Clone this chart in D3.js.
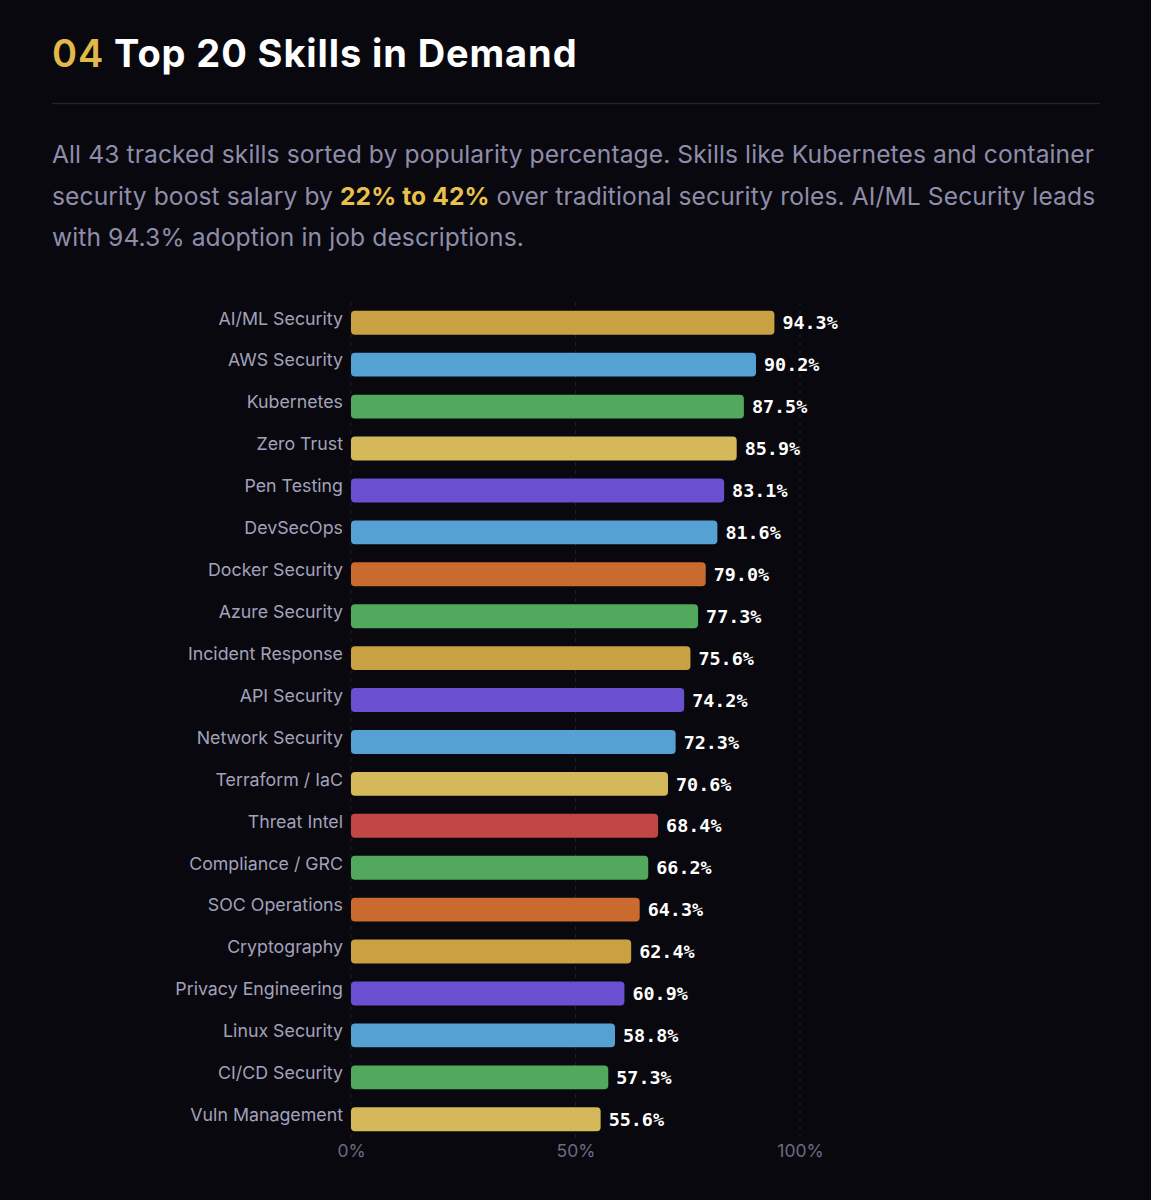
<!DOCTYPE html>
<html>
<head>
<meta charset="utf-8">
<script src="https://cdn.jsdelivr.net/npm/d3@7"></script>
<style>
  html, body { margin: 0; padding: 0; background: #08080e; }
  svg { display: block; }
</style>
</head>
<body>
<svg id="chart" width="1151" height="1200"></svg>
<script>
// Top 20 skills -- horizontal bar chart

var skills = ["AI/ML Security", "AWS Security", "Kubernetes", "Zero Trust", "Pen Testing",
  "DevSecOps", "Docker Security", "Azure Security", "Incident Response", "API Security",
  "Network Security", "Terraform / IaC", "Threat Intel", "Compliance / GRC", "SOC Operations",
  "Cryptography", "Privacy Engineering", "Linux Security", "CI/CD Security", "Vuln Management"];

var popularity = [94.3, 90.2, 87.5, 85.9, 83.1, 81.6, 79.0, 77.3, 75.6, 74.2,
  72.3, 70.6, 68.4, 66.2, 64.3, 62.4, 60.9, 58.8, 57.3, 55.6];

var groups = ["gold", "blue", "green", "yellow", "purple", "blue", "orange", "green", "gold", "purple",
  "blue", "yellow", "red", "green", "orange", "gold", "purple", "blue", "green", "yellow"];

var ticks = [0, 50, 100];

var palette = {
  gold: "#c9a042",
  yellow: "#d5b85a",
  blue: "#56a1d4",
  green: "#52a85d",
  purple: "#6a4fd1",
  orange: "#c96a2f",
  red: "#c04745"
};

var svg = d3.select("#chart");

///////////////////////////////////////////////////////////////////////////////
// Header

var title = svg.append("text")
  .attr("x", 52).attr("y", 67)
  .attr("font-family", "Inter, 'Noto Sans', sans-serif")
  .attr("font-size", 38).attr("font-weight", 700)
  .attr("letter-spacing", 0.9);
title.append("tspan").attr("fill", "#e2b84a").attr("font-weight", 600).text("04");
title.append("tspan").attr("fill", "#ffffff").text(" Top 20 Skills in Demand");

svg.append("line")
  .attr("x1", 52).attr("x2", 1100)
  .attr("y1", 103.5).attr("y2", 103.5)
  .attr("stroke", "#23222f").attr("stroke-width", 1.5);

var intro = [
  [["All 43 tracked skills sorted by popularity percentage. Skills like Kubernetes and container", false]],
  [["security boost salary by ", false], ["22% to 42%", true], [" over traditional security roles. AI/ML Security leads", false]],
  [["with 94.3% adoption in job descriptions.", false]]
];

intro.forEach(function (line, i) {
  var t = svg.append("text")
    .attr("x", 52).attr("y", 163 + i * 41.5)
    .attr("font-family", "Inter, 'Noto Sans', sans-serif")
    .attr("font-size", 24.6)
    .attr("letter-spacing", 0.1)
    .attr("fill", "#8f8da9");
  line.forEach(function (part) {
    var s = t.append("tspan").text(part[0]);
    if (part[1])
      s.attr("fill", "#e8c04b").attr("font-weight", 700);
  });
});

///////////////////////////////////////////////////////////////////////////////
// Chart

var x = d3.scaleLinear().domain([0, 100]).range([351, 800]);
var y = d3.scaleBand().domain(skills).range([302, 1140]).paddingInner(0.43).paddingOuter(0.21);

// faint dashed gridlines
svg.append("g").selectAll("line")
  .data(ticks)
  .enter().append("line")
  .attr("x1", function (d) { return x(d); })
  .attr("x2", function (d) { return x(d); })
  .attr("y1", 302).attr("y2", 1138)
  .attr("stroke", "#1c1c26").attr("stroke-dasharray", "4,4");

var rows = skills.map(function (s, i) {
  return { skill: s, value: popularity[i], color: palette[groups[i]] };
});

svg.append("g").selectAll("rect")
  .data(rows)
  .enter().append("rect")
  .attr("x", x(0))
  .attr("y", function (d) { return y(d.skill); })
  .attr("width", function (d) { return x(d.value) - x(0); })
  .attr("height", y.bandwidth())
  .attr("rx", 4).attr("ry", 4)
  .attr("fill", function (d) { return d.color; });

svg.append("g").selectAll("text")
  .data(rows)
  .enter().append("text")
  .attr("x", 343)
  .attr("y", function (d) { return y(d.skill) + y.bandwidth() / 2; })
  .attr("dy", "0.1em")
  .attr("text-anchor", "end")
  .attr("font-family", "Inter, 'Noto Sans', sans-serif")
  .attr("font-size", 17.8)
  .attr("fill", "#a3a2ba")
  .text(function (d) { return d.skill; });

svg.append("g").selectAll("text")
  .data(rows)
  .enter().append("text")
  .attr("x", function (d) { return x(d.value) + 8; })
  .attr("y", function (d) { return y(d.skill) + y.bandwidth() / 2; })
  .attr("dy", "0.36em")
  .attr("font-family", "'DejaVu Sans Mono', 'Liberation Mono', monospace")
  .attr("font-size", 18.4)
  .attr("font-weight", 700)
  .attr("fill", "#ffffff")
  .text(function (d) { return d.value.toFixed(1) + "%"; });

// x axis, labels only
var axis = svg.append("g")
  .attr("transform", "translate(0,1140)")
  .call(d3.axisBottom(x).tickValues(ticks).tickSize(0).tickPadding(5)
    .tickFormat(function (d) { return d + "%"; }));
axis.select(".domain").remove();
axis.selectAll("text")
  .attr("font-family", "Inter, 'Noto Sans', sans-serif")
  .attr("font-size", 17.5)
  .attr("fill", "#6c6b82");
</script>
</body>
</html>
